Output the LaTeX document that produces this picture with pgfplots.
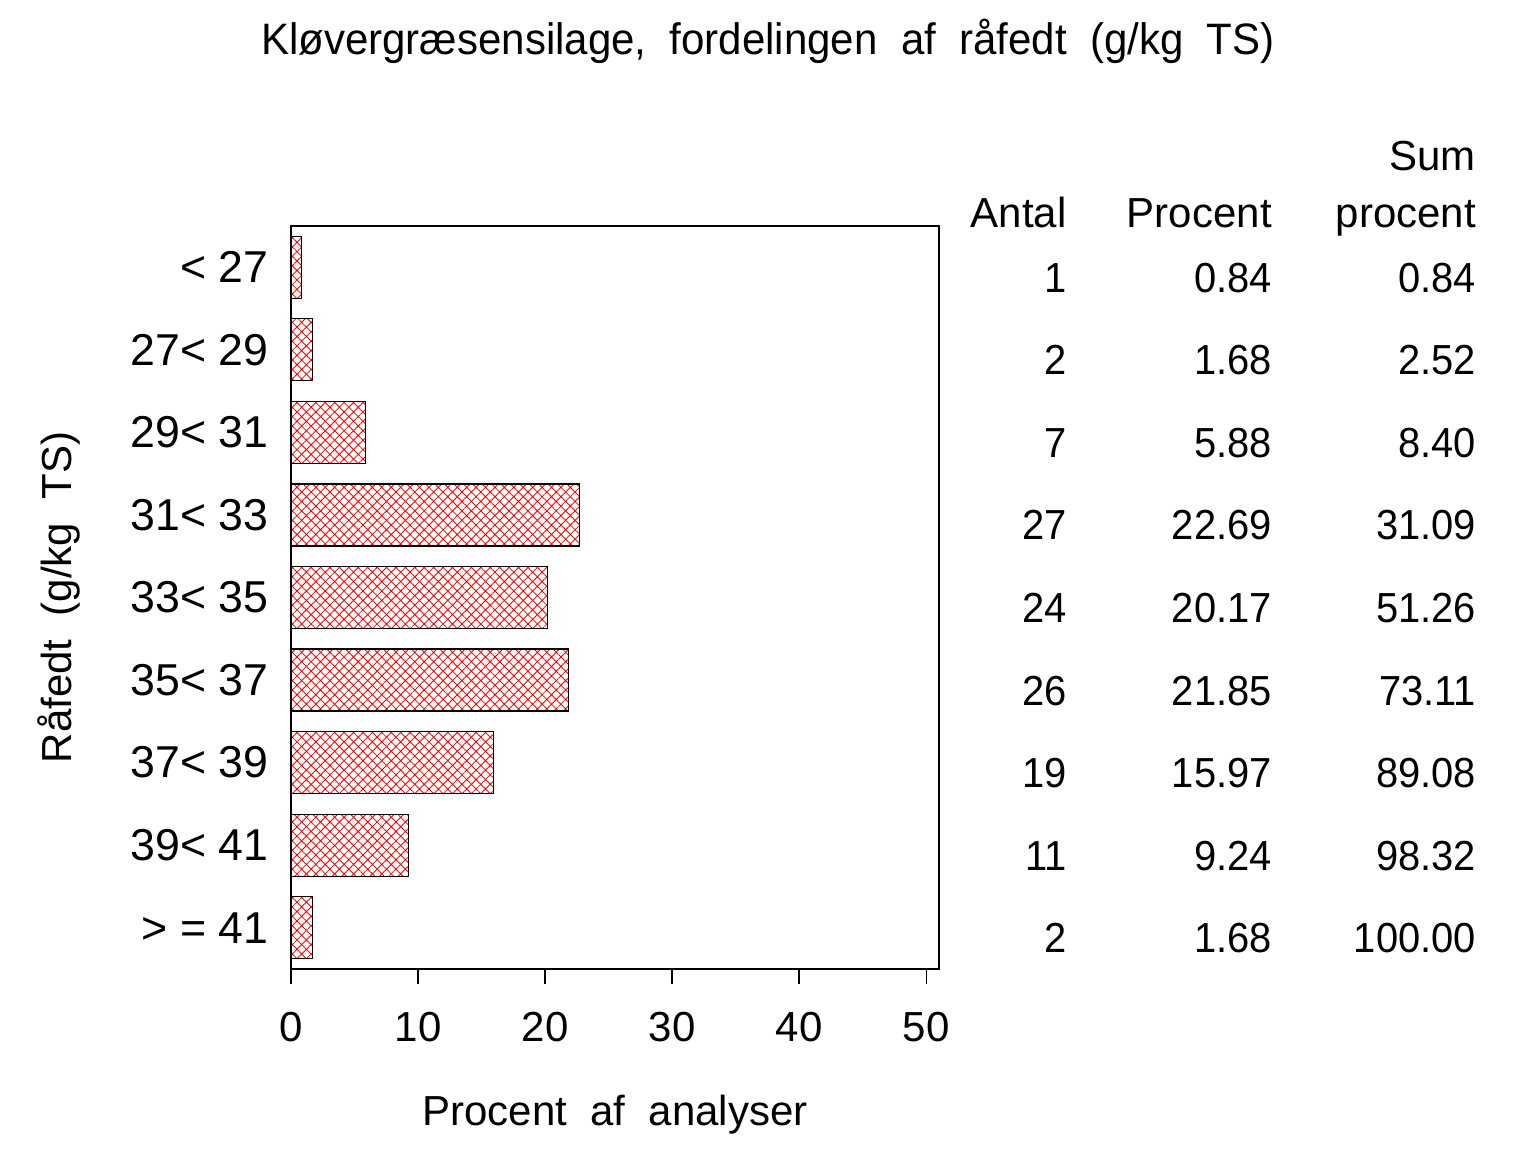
\documentclass[border=0pt]{standalone}
\usepackage{pgfplots}
\pgfplotsset{compat=1.18}
\usepackage{fontspec}
\setmainfont{Liberation Sans}
\usetikzlibrary{patterns.meta}
\newcommand\row[4]{%
  \node[anchor=base east,inner sep=0pt] at (axis cs:61.1,#1) [yshift=-7.5pt] {\addfontfeature{FakeStretch=0.95}#2};
  \node[anchor=base east,inner sep=0pt] at (axis cs:77.24,#1) [yshift=-7.5pt] {\addfontfeature{FakeStretch=0.95}#3};
  \node[anchor=base east,inner sep=0pt] at (axis cs:93.31,#1) [yshift=-7.5pt] {\addfontfeature{FakeStretch=0.95}#4};
}
\begin{document}
\fontsize{12.6}{15}\selectfont
\begin{tikzpicture}[x=1pt,y=1pt]
\useasboundingbox (0,0) rectangle (460.8,345.6);
\node[anchor=base,inner sep=0pt,font=\fontsize{13.2}{15}\selectfont] at (230.4,329.1) {\addfontfeature{FakeStretch=0.955}Kløvergræsensilage,\ \ fordelingen\ \ af\ \ råfedt\ \ (g/kg\ \ TS)};
\begin{axis}[
  at={(87.3pt,54.9pt)}, anchor=south west,
  scale only axis, width=194.4pt, height=222.9pt,
  xmin=0, xmax=51, ymin=0.5, ymax=9.5,
  y dir=reverse,
  clip=false,
  axis line style={line width=0.45pt},
  xtick={0,10,20,30,40,50},
  xtick pos=bottom, tick align=outside,
  xtick style={line width=0.45pt, black},
  major tick length=4.5pt,
  ytick={1,...,9},
  ytick style={draw=none},
  yticklabels={{< 27},{27< 29},{29< 31},{31< 33},{33< 35},{35< 37},{37< 39},{39< 41},{> = 41}},
  yticklabel style={anchor=east, inner sep=0pt, xshift=-2.1pt, font=\fontsize{13.4}{15}\selectfont},
  xticklabel style={anchor=north, inner sep=0pt, yshift=-8.1pt},
  /pgf/number format/assume math mode=true,
  xlabel={Procent\ \ af\ \ analyser},
  xlabel style={at={(axis description cs:0.5,0)}, anchor=base, inner sep=0pt, yshift=-46.8pt},
  ylabel={Råfedt\ \ (g/kg\ \ TS)},
  ylabel style={at={(axis description cs:-0.338,0.5)}, anchor=base, inner sep=0pt},
  xbar, bar width=18.6pt,
]
\addplot[draw=black, line width=0.35pt, pattern={Hatch[angle=45,distance=2.0pt,line width=0.25pt]}, pattern color=red]
 coordinates {(0.84,1) (1.68,2) (5.88,3) (22.69,4) (20.17,5) (21.85,6) (15.97,7) (9.24,8) (1.68,9)};
% table headers
\node[anchor=base east,inner sep=0pt] at (axis cs:61.1,0.5) [yshift=-0.3pt] {Antal};
\node[anchor=base east,inner sep=0pt] at (axis cs:77.24,0.5) [yshift=-0.3pt] {Procent};
\node[anchor=base east,inner sep=0pt] at (axis cs:93.31,0.5) [yshift=-0.3pt] {procent};
\node[anchor=base east,inner sep=0pt] at (axis cs:93.31,0.5) [yshift=16.8pt] {Sum};
% table rows
\row{1}{1}{0.84}{0.84}
\row{2}{2}{1.68}{2.52}
\row{3}{7}{5.88}{8.40}
\row{4}{27}{22.69}{31.09}
\row{5}{24}{20.17}{51.26}
\row{6}{26}{21.85}{73.11}
\row{7}{19}{15.97}{89.08}
\row{8}{11}{9.24}{98.32}
\row{9}{2}{1.68}{100.00}
\end{axis}
\end{tikzpicture}
\end{document}
